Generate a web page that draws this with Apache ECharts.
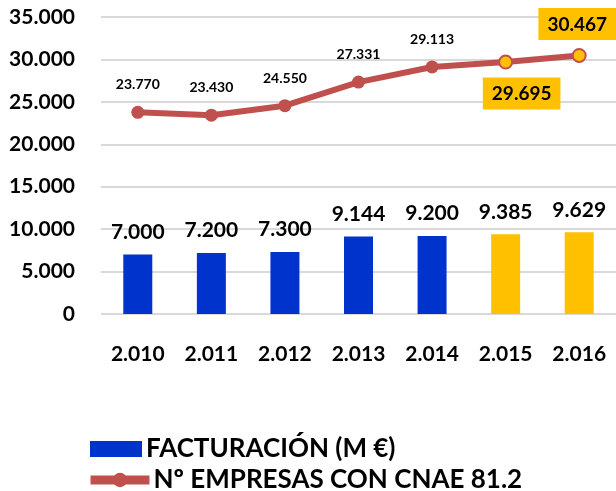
<!DOCTYPE html>
<html><head><meta charset="utf-8">
<script src="https://cdn.jsdelivr.net/npm/echarts@6/dist/echarts.min.js"></script>
<style>html,body{margin:0;padding:0;background:#fff}#c{width:616px;height:491px}</style>
</head><body><div id="c"></div>
<script>
const categories = ['2.010','2.011','2.012','2.013','2.014','2.015','2.016'];
const facturacion = [7000, 7200, 7300, 9144, 9200, 9385, 9629];
const empresas = [23770, 23430, 24550, 27331, 29113, 29695, 30467];
const highlighted = [false, false, false, false, false, true, true];
const yTicks = {min: 0, max: 35000, interval: 5000};
const seriesNames = ['FACTURACIÓN (M €)', 'Nº EMPRESAS CON CNAE 81.2'];

const FONT = 'Lato';
const fmt = v => String(Math.round(v)).replace(/\B(?=(\d{3})+(?!\d))/g, '.');
const BLUE = '#0033CC', YEL = '#FFC000', RED = '#C0504D';

const barData = facturacion.map((v, i) => ({value: v, itemStyle: {color: highlighted[i] ? YEL : BLUE}}));
const lineData = empresas.map((v, i) => {
  if (!highlighted[i]) return {value: v};
  const last = i === empresas.length - 1;
  return {
    value: v,
    itemStyle: {color: YEL, borderColor: RED, borderWidth: 2},
    label: {
      position: last ? 'top' : 'bottom',
      distance: 8,
      offset: last ? [-2, 0] : [16, 0],
      fontSize: 19, backgroundColor: YEL, padding: [7, 9, 6, 9]
    }
  };
});

const legendText = {fontFamily: FONT, fontWeight: 'bold', fontSize: 26, lineHeight: 28, color: '#000', padding: [0,0,0,-1]};
const chart = echarts.init(document.getElementById('c'));
chart.setOption({
  animation: false,
  grid: {left: 101, top: 17, width: 518, height: 297},
  legend: [
    {
      left: 90, top: 435, padding: 0, itemWidth: 52, itemHeight: 16, textStyle: legendText,
      data: [{name: seriesNames[0], icon: 'rect', itemStyle: {color: BLUE}}]
    },
    {
      left: 86, top: 466, padding: 0, itemWidth: 59, itemHeight: 18, textStyle: legendText,
      data: [{name: seriesNames[1], lineStyle: {width: 9, color: RED}, itemStyle: {color: RED}}]
    }
  ],
  xAxis: {
    type: 'category', data: categories,
    axisLine: {show: false}, axisTick: {show: false},
    axisLabel: {margin: 30, fontFamily: FONT, fontWeight: 'bold', fontSize: 21, color: '#000'}
  },
  yAxis: {
    type: 'value', min: yTicks.min, max: yTicks.max, interval: yTicks.interval,
    axisLine: {show: false}, axisTick: {show: false},
    splitLine: {lineStyle: {color: '#D9D9D9', width: 2}},
    axisLabel: {margin: 26, fontFamily: FONT, fontWeight: 'bold', fontSize: 21, color: '#000', formatter: fmt}
  },
  series: [
    {
      name: seriesNames[0], type: 'bar', data: barData, barWidth: 29,
      itemStyle: {color: BLUE},
      label: {show: true, position: 'top', distance: 12, fontFamily: FONT, fontWeight: 'bold', fontSize: 21, color: '#000', formatter: p => fmt(p.value)}
    },
    {
      name: seriesNames[1], type: 'line', data: lineData,
      symbol: 'circle', symbolSize: 13,
      lineStyle: {color: RED, width: 6}, itemStyle: {color: RED},
      label: {show: true, position: 'top', distance: 14, fontFamily: FONT, fontWeight: 'bold', fontSize: 14, color: '#000', formatter: p => fmt(p.value)}
    }
  ]
});
</script></body></html>
